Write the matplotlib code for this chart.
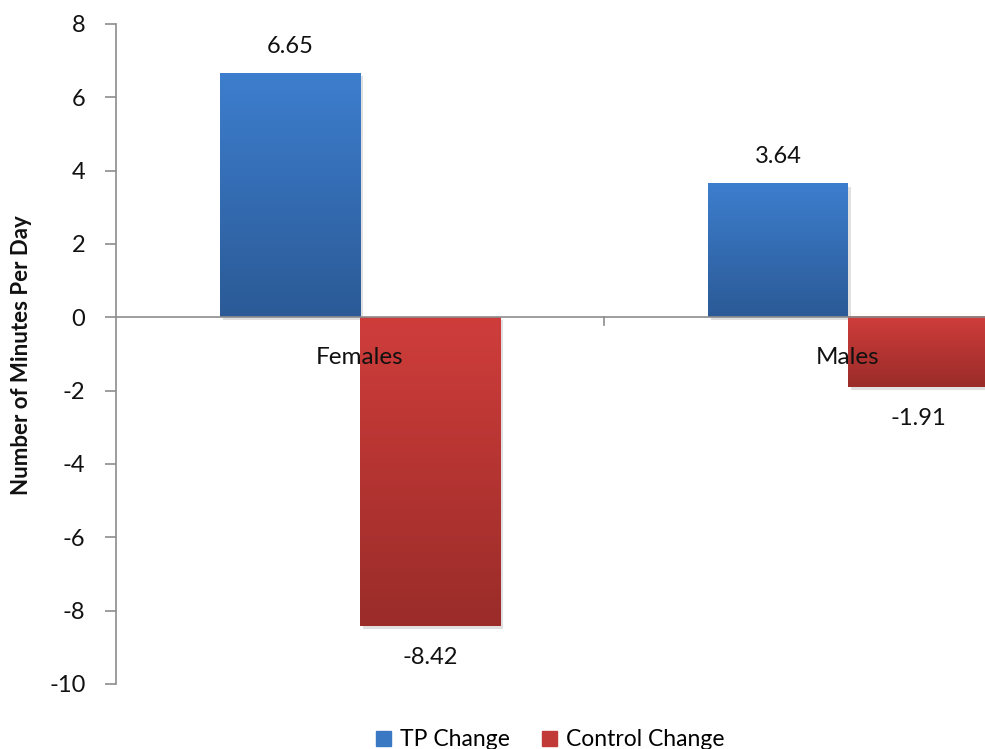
import numpy as np
import matplotlib
matplotlib.use("Agg")
import matplotlib.pyplot as plt
from matplotlib.patches import Patch
from matplotlib.colors import LinearSegmentedColormap

categories = ["Females", "Males"]
tp_change = [6.65, 3.64]
control_change = [-8.42, -1.91]
series_names = ["TP Change", "Control Change"]

plt.rcParams['font.family'] = ['Lato', 'DejaVu Sans']
plt.rcParams['axes.unicode_minus'] = False

W, H = 985, 749
fig = plt.figure(figsize=(W / 100, H / 100), dpi=100)
# plot area spans past the right edge of the canvas
left_px, right_px, top_px, bot_px = 116, 1092, 24, 684
ax = fig.add_axes([left_px / W, 1 - bot_px / H, (right_px - left_px) / W, (bot_px - top_px) / H])

bar_w = 140 / 488
x = np.arange(len(categories))

blue_map = LinearSegmentedColormap.from_list("b", ["#2B5A96", "#3D7ECE"])
red_map = LinearSegmentedColormap.from_list("r", ["#9A2C29", "#CF3D3B"])


def gradient_bars(xs, vals, cmap, offset):
    bars = ax.bar(xs + offset, vals, width=bar_w, color="none", edgecolor="none", zorder=1)
    grad = np.linspace(0, 1, 256).reshape(-1, 1)
    for b in bars:
        x0, y0 = b.get_x(), b.get_y()
        w, h = b.get_width(), b.get_height()
        lo, hi = min(y0, y0 + h), max(y0, y0 + h)
        # soft drop shadow
        ax.add_patch(plt.Rectangle((x0 + 0.006, lo - 0.08), w, hi - lo, color="#000000",
                                   alpha=0.12, lw=0, zorder=0.8))
        ax.imshow(grad, extent=(x0, x0 + w, lo, hi), origin="lower", cmap=cmap,
                  aspect="auto", zorder=1.1, interpolation="bilinear")
    return bars


gradient_bars(x, tp_change, blue_map, -bar_w / 2)
gradient_bars(x, control_change, red_map, bar_w / 2)
ax.set_xlim(-0.5, 1.5)
ax.set_ylim(-10, 8)

txt_col = "#111111"
fs = 17

# value labels
for xi, v in zip(x, tp_change):
    ax.annotate(f"{v:.2f}", (xi - bar_w / 2, v), xytext=(0, 19.5), textcoords="offset points",
                ha="center", va="center", fontsize=fs, color=txt_col, zorder=5)
for xi, v in zip(x, control_change):
    ax.annotate(f"{v:.2f}", (xi + bar_w / 2, v), xytext=(0, -22.5), textcoords="offset points",
                ha="center", va="center", fontsize=fs, color=txt_col, zorder=5)

# category labels
for xi, c in zip(x, categories):
    ax.annotate(c, (xi, 0), xytext=(0, -29), textcoords="offset points",
                ha="center", va="center", fontsize=17.5, color=txt_col, zorder=5)

axis_col = "#8C8C8C"
for s in ["top", "right", "bottom"]:
    ax.spines[s].set_visible(False)
ax.spines["left"].set_color(axis_col)
ax.spines["left"].set_linewidth(1.2)
ax.axhline(0, color=axis_col, lw=1.2, zorder=2)
for xt in [0.5, 1.5]:
    ax.plot([xt, xt], [0, -0.2], color=axis_col, lw=1.2, zorder=2, clip_on=False)

ax.set_xticks([])
ax.set_yticks(np.arange(-10, 9, 2))
ax.tick_params(axis="y", direction="out", length=8, width=1.2, color=axis_col,
               labelsize=fs, labelcolor=txt_col, pad=14)

fig.text(22 / W, 1 - 355 / H, "Number of Minutes Per Day", rotation=90, ha="center", va="center",
         fontsize=16, fontweight="bold", color=txt_col)

handles = [Patch(facecolor="#3A78C4", edgecolor="#3A78C4"),
           Patch(facecolor="#C23A37", edgecolor="#C23A37")]
fig.legend(handles, series_names, loc="center", bbox_to_anchor=(550 / W, 1 - 740 / H),
           ncol=2, frameon=False, fontsize=16.5, handlelength=0.65, handleheight=0.65,
           handletextpad=0.4, columnspacing=1.4)

fig.savefig("out.png", dpi=100)
